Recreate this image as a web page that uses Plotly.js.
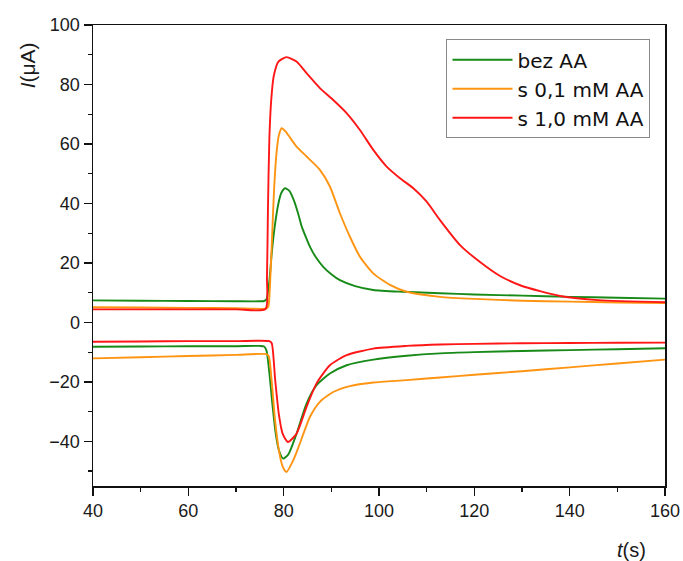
<!DOCTYPE html>
<html>
<head>
<meta charset="utf-8">
<script src="https://cdn.plot.ly/plotly-3.0.1.min.js"></script>
<style>html,body{margin:0;padding:0;background:#fff;}#chart{width:683px;height:561px;}</style>
</head>
<body>
<div id="chart"></div>
<script>
// Series names
const seriesNames = ["bez AA", "s 0,1 mM AA", "s 1,0 mM AA"];

// bez AA — anodic (upper) branch
const greenUpT = [40,50,60,70,75,75.9,76.4,77.0,77.5,78.1,78.9,79.5,80.3,81.2,82.1,83.0,83.8,84.7,85.5,86.8,88.3,90,91.8,95,98.8,105,112.8,120,130,140,150,160];
const greenUpI = [7.4,7.3,7.2,7.1,7.1,7.2,7.8,14,23.3,32,40,43.5,45.1,44.2,41.2,36.8,32.2,28.5,25.5,21.8,18.7,16.2,14.2,12.2,10.9,10.3,9.8,9.4,9.0,8.6,8.3,8.0];
// bez AA — cathodic (lower) branch
const greenDnT = [40,50,60,70,75,75.9,76.4,77.0,77.6,78.3,79.0,79.9,81.0,82.7,84.8,86.9,89.7,93.2,98.8,105.8,112.8,120,130,140,150,160];
const greenDnI = [-8.2,-8.1,-8.0,-8.0,-7.9,-8.1,-9.5,-17,-27,-37,-43,-45.8,-44.3,-37.4,-27.3,-21.1,-17.2,-14.4,-12.5,-11.2,-10.4,-10.0,-9.6,-9.3,-9.0,-8.7];

// s 0,1 mM AA — upper branch
const orangeUpT = [40,50,60,70,76.4,76.8,77.2,77.6,78.0,78.5,79.0,79.6,80.5,82.7,84.8,87.6,89.7,91.8,93.9,96,98.8,102.3,105.8,112.8,120,130,140,150,160];
const orangeUpI = [5.1,5.0,4.9,4.8,4.7,5.5,15,30,45,57,63,65.3,64,59.1,55.8,51.3,45.7,36.7,28.8,22.1,16.5,12.6,10.3,8.6,7.9,7.3,7.0,6.7,6.5];
// s 0,1 mM AA — lower branch
const orangeDnT = [40,50,60,70,76.4,76.9,77.5,78.2,79.0,79.8,80.6,82.0,83.4,85.5,87.6,90.4,93.9,98.8,105.8,112.8,120,130,140,150,160];
const orangeDnI = [-12.1,-11.7,-11.3,-10.9,-10.7,-11.5,-20,-33,-43,-48.5,-50.3,-46.4,-40.7,-31.8,-26.7,-23.4,-21.4,-20.2,-19.4,-18.5,-17.6,-16.4,-15.1,-13.8,-12.5];

// s 1,0 mM AA — upper branch
const redUpT = [40,50,60,70,76.2,76.5,76.7,77.0,77.4,77.9,78.9,80.6,82.7,84.8,87.6,90.4,93.2,96,98.8,101.6,104.4,107.2,110,112.8,117,121.2,125.4,129.6,133.8,138,146,160];
const redUpI = [4.4,4.4,4.4,4.4,4.5,15,38,62,75,82.7,87.7,89.2,87.7,83.8,78.8,74.8,70.4,64.7,58,52.4,48.5,45.1,40.6,34.4,26,20.3,15.6,12.5,10.5,8.9,7.5,6.8];
// s 1,0 mM AA — lower branch
const redDnT = [40,50,60,70,77.0,77.5,78.2,79.0,79.8,80.9,82.7,84.8,86.9,89.7,93.2,98.8,105.8,112.8,120,130,140,150,160];
const redDnI = [-6.5,-6.4,-6.3,-6.3,-6.3,-7,-19,-31,-37.5,-40.2,-37.4,-28.4,-20.5,-14.4,-11.0,-8.8,-7.9,-7.4,-7.2,-7.0,-6.9,-6.85,-6.8];

const colors = ["#178a17", "#ff9412", "#ff1717"];

function joinBranches(t1, v1, t2, v2) {
  return { x: t1.concat([null], t2), y: v1.concat([null], v2) };
}

const branches = [
  joinBranches(greenUpT, greenUpI, greenDnT, greenDnI),
  joinBranches(orangeUpT, orangeUpI, orangeDnT, orangeDnI),
  joinBranches(redUpT, redUpI, redDnT, redDnI)
];

const traces = branches.map((b, i) => ({
  x: b.x, y: b.y, type: 'scatter', mode: 'lines', name: seriesNames[i],
  connectgaps: false,
  line: { color: colors[i], width: 1.9, shape: 'spline', smoothing: 0.6 }
}));

const FONT = 'Liberation Sans, Arial, sans-serif';

const axisCommon = {
  showline: true, linecolor: '#111', linewidth: 1.5, mirror: true,
  ticks: 'outside', ticklen: 8, tickwidth: 1.3, tickcolor: '#111',
  showgrid: false, zeroline: false,
  tickfont: { family: FONT, size: 18, color: '#1a1a1a' }
};

const layout = {
  width: 683, height: 561,
  margin: { l: 93, r: 18, t: 25, b: 75 },
  paper_bgcolor: '#fff', plot_bgcolor: '#fff',
  showlegend: true,
  legend: {
    x: 0.618, y: 0.969, xanchor: 'left', yanchor: 'top',
    bordercolor: '#8a8a8a', borderwidth: 1, bgcolor: '#fff',
    font: { family: 'DejaVu Sans, sans-serif', size: 20, color: '#111' },
    itemwidth: 60,
    tracegroupgap: 0
  },
  xaxis: Object.assign({}, axisCommon, {
    range: [40, 160], dtick: 20, tick0: 40,
    minor: { dtick: 10, ticks: 'outside', ticklen: 4, tickcolor: '#111', tickwidth: 1.3 }
  }),
  yaxis: Object.assign({}, axisCommon, {
    range: [-55, 100], dtick: 20, tick0: 0,
    minor: { dtick: 10, ticks: 'outside', ticklen: 4, tickcolor: '#111', tickwidth: 1.3 }
  }),
  annotations: [
    { text: '<i>I</i>(μA)', xref: 'paper', yref: 'paper', x: -0.115, y: 0.913,
      textangle: -90, showarrow: false, xanchor: 'center', yanchor: 'middle',
      font: { family: FONT, size: 21, color: '#1a1a1a' } },
    { text: '<i>t</i>(s)', xref: 'paper', yref: 'paper', x: 0.942, y: -0.1395,
      showarrow: false, xanchor: 'center', yanchor: 'middle',
      font: { family: FONT, size: 20, color: '#1a1a1a' } }
  ]
};

Plotly.newPlot('chart', traces, layout, { displayModeBar: false, staticPlot: true });
</script>
</body>
</html>
